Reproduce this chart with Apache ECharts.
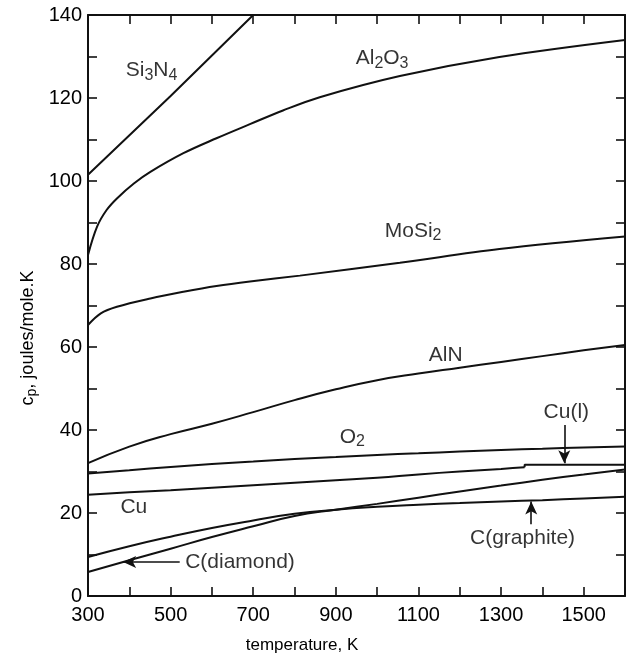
<!DOCTYPE html>
<html><head><meta charset="utf-8">
<script src="https://cdn.jsdelivr.net/npm/echarts@6/dist/echarts.min.js"></script>
<style>html,body{margin:0;padding:0;background:#fff}#c{width:628px;height:657px}</style>
</head><body><div id="c"></div><script>
// ---- data (temperature K, cp J/mol.K) ----
const si3n4T = [300, 500, 700];
const si3n4V = [101.5, 120.5, 140];
const al2o3T = [300, 322, 345, 370, 411, 451, 531, 611, 692, 772, 861, 1055, 1296, 1600];
const al2o3V = [82.2, 89, 93, 95.8, 99.4, 102.2, 106.7, 110.3, 113.7, 117, 120.2, 125.3, 129.9, 134];
const mosi2T = [300, 331, 370, 451, 531, 611, 692, 813, 1055, 1296, 1600];
const mosi2V = [65.3, 68.1, 69.7, 71.7, 73.3, 74.7, 75.8, 77.2, 80.3, 83.6, 86.6];
const alnT = [300, 400, 500, 600, 700, 800, 900, 1000, 1100, 1200, 1300, 1400, 1500, 1600];
const alnV = [32, 36, 39, 41.5, 44.3, 47.2, 49.8, 52, 53.6, 55, 56.4, 57.8, 59.2, 60.5];
const o2T = [300, 400, 500, 600, 700, 800, 900, 1000, 1100, 1200, 1300, 1400, 1500, 1600];
const o2V = [29.5, 30.3, 31.1, 31.8, 32.4, 33, 33.5, 34, 34.4, 34.8, 35.2, 35.5, 35.8, 36];
const cuT = [300, 400, 500, 600, 700, 800, 900, 1000, 1100, 1200, 1300, 1357];
const cuV = [24.4, 25, 25.5, 26.1, 26.7, 27.3, 27.9, 28.5, 29.3, 30, 30.6, 31.0];
const cuLiqT = [1357, 1357, 1600];
const cuLiqV = [31.0, 31.6, 31.6];
const graphiteT = [300, 400, 500, 600, 700, 800, 900, 1000, 1100, 1200, 1300, 1400, 1500, 1600];
const graphiteV = [9.4, 12, 14.3, 16.4, 18.2, 19.8, 20.8, 21.5, 22, 22.4, 22.8, 23.1, 23.5, 23.9];
const diamondT = [300, 400, 500, 600, 700, 800, 900, 1000, 1100, 1200, 1300, 1400, 1500, 1600];
const diamondV = [5.8, 8.6, 11.4, 14.2, 16.8, 19.3, 20.8, 22.2, 23.7, 25.2, 26.6, 28, 29.3, 30.5];

// curve labels (rich text) and their anchors in data space
const labelTexts = ['{n|Si}{s|3}{n|N}{s|4}', '{n|Al}{s|2}{n|O}{s|3}', '{n|MoSi}{s|2}', '{n|AlN}', '{n|O}{s|2}',
  '{n|Cu(l)}', '{n|Cu}', '{n|C(diamond)}', '{n|C(graphite)}'];
const labelT = [454, 1012, 1087, 1166, 940, 1458, 411, 668, 1352];
const labelV = [126.7, 129.5, 88.0, 58.1, 38.3, 44.3, 21.4, 8.2, 14.0];

// arrows: [fromT, fromV, toT, toV]
const arrows = [[522, 8.2, 385, 8.2], [1453, 41.2, 1453, 32.0], [1373, 17.3, 1373, 22.8]];

const xTicksLabelStep = 200, yTicksLabelStep = 20;

const FONT = '"Liberation Sans", Arial, Helvetica, sans-serif';
const chart = echarts.init(document.getElementById('c'), null, {renderer: 'canvas'});

function line(T, V, extra) {
  return Object.assign({
    type: 'line', data: T.map((t, i) => [t, V[i]]), smooth: true, symbol: 'none',
    lineStyle: {color: '#111', width: 2}, silent: true, z: 3
  }, extra || {});
}

const axisCommon = {
  type: 'value', splitLine: {show: false},
  axisLine: {show: true, onZero: false, lineStyle: {color: '#111', width: 2}},
  axisTick: {show: true, inside: true, length: 9, lineStyle: {color: '#111', width: 1.6}}
};

const option = {
  backgroundColor: '#fff',
  animation: false,
  grid: {left: 88, right: 3, top: 15, bottom: 61, containLabel: false},
  xAxis: [
    Object.assign({}, axisCommon, {min: 300, max: 1600, interval: 100, position: 'bottom',
      axisLabel: {color: '#000', fontSize: 20, fontFamily: FONT, margin: 9,
        formatter: v => ((v - 300) % xTicksLabelStep === 0 && v < 1600) ? String(v) : ''}}),
    Object.assign({}, axisCommon, {min: 300, max: 1600, interval: 100, position: 'top', axisLabel: {show: false}})
  ],
  yAxis: [
    Object.assign({}, axisCommon, {min: 0, max: 140, interval: 10, position: 'left',
      axisLabel: {color: '#000', fontSize: 20, fontFamily: FONT, margin: 6,
        formatter: v => (v % yTicksLabelStep === 0) ? String(v) : ''}}),
    Object.assign({}, axisCommon, {min: 0, max: 140, interval: 10, position: 'right', axisLabel: {show: false}})
  ],
  graphic: [
    {type: 'text', x: 28, y: 338, rotation: Math.PI / 2,
      style: {text: '{n|c}{s|p}{n|, joules/mole.K}', align: 'center', verticalAlign: 'middle',
        rich: {n: {fontSize: 18, fontFamily: FONT, fill: '#000'},
               s: {fontSize: 14, fontFamily: FONT, fill: '#000', padding: [8, 0, 0, 0]}}}},
    {type: 'text', x: 302, y: 645,
      style: {text: 'temperature, K', align: 'center', verticalAlign: 'middle',
        fontSize: 17, fontFamily: FONT, fill: '#000'}}
  ],
  series: [
    line(si3n4T, si3n4V, {smooth: false}),
    line(al2o3T, al2o3V, {smooth: 0.35}),
    line(mosi2T, mosi2V, {smooth: 0.35}),
    line(alnT, alnV),
    line(o2T, o2V),
    line(cuT, cuV),
    line(cuLiqT, cuLiqV, {smooth: false}),
    line(graphiteT, graphiteV),
    line(diamondT, diamondV, {
      markLine: {
        silent: true, precision: 2,
        label: {show: false},
        lineStyle: {color: '#111', width: 1.6, type: 'solid'},
        data: arrows.map(a => [
          {coord: [a[0], a[1]], symbol: 'none', symbolSize: 0},
          {coord: [a[2], a[3]], symbol: 'arrow', symbolSize: [9, 13]}
        ])
      }
    }),
    {
      type: 'scatter', silent: true, symbol: 'circle', symbolSize: 1, z: 5,
      itemStyle: {color: 'rgba(0,0,0,0)'},
      data: labelTexts.map((t, i) => ({value: [labelT[i], labelV[i]], label: {formatter: t}})),
      label: {show: true, position: 'inside', color: '#000',
        rich: {n: {fontSize: 21, fontFamily: FONT, color: '#000'},
               s: {fontSize: 16, fontFamily: FONT, color: '#000', padding: [10, 0, 0, 0]}}}
    }
  ]
};
chart.setOption(option);
</script></body></html>
